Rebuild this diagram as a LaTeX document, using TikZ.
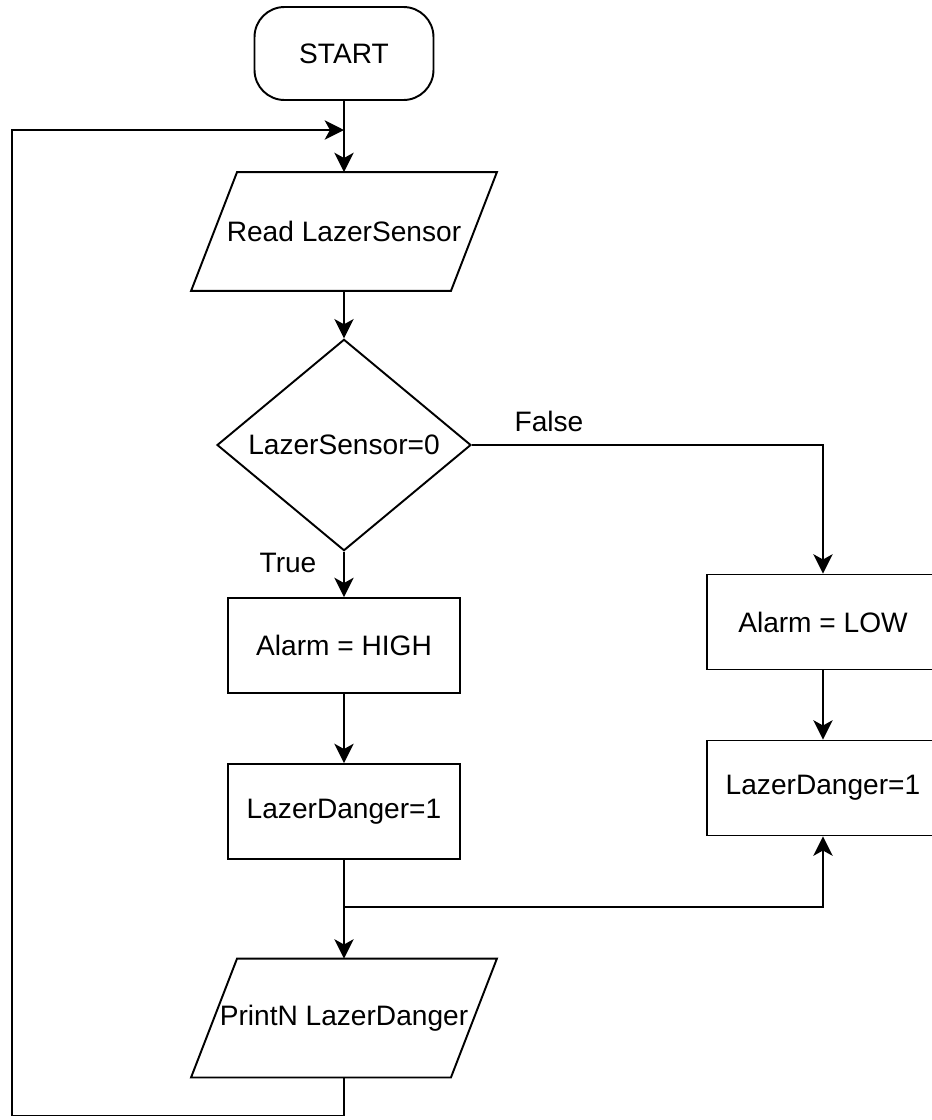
\documentclass[tikz,border=0pt]{standalone}
\usepackage{fontspec}
\setmainfont{Liberation Sans}
\usetikzlibrary{shapes.geometric,arrows.meta}
\tikzstyle{startstop} = [rectangle, rounded corners=0.6cm, minimum width=3.58cm, minimum height=1.86cm, text centered, draw=black]
\tikzstyle{io} = [rectangle, minimum width=5.16cm, minimum height=2.34cm, inner sep=0pt, text centered,
	append after command={\pgfextra{\draw ([xshift=0.46cm]\tikzlastnode.north west) -- ([xshift=0.46cm]\tikzlastnode.north east) -- ([xshift=-0.46cm]\tikzlastnode.south east) -- ([xshift=-0.46cm]\tikzlastnode.south west) -- cycle;}}]
\tikzstyle{decision} = [diamond, minimum width=5.08cm, minimum height=4.2cm, inner sep=0pt, text centered, draw=black]
\tikzstyle{process} = [rectangle, minimum width=4.64cm, minimum height=1.9cm, text centered, draw=black]
\tikzstyle{arrow} = [line width=1.1pt,-{Stealth[length=11pt,width=11pt,inset=3pt]}]

\begin{document}
\begin{tikzpicture}[x=0.02cm, y=-0.02cm, line width=1.1pt, font=\fontsize{16}{19}\selectfont]
	\useasboundingbox (0,0) rectangle (932,1120);
	\clip (0,0) rectangle (932,1120);
	\node (start) at (344, 53.5) [startstop] {START};
	\node (read) at (344, 231.5) [io] {Read LazerSensor};
	\node (check) at (344, 445) [decision] {LazerSensor=0};
	\node (high) at (344, 645.5) [process] {Alarm = HIGH};
	\node (dangerA) at (344, 811.5) [process] {LazerDanger=1};
	\node (low) at (823, 622) [process] {Alarm = LOW};
	\node (dangerB) at (823, 788) [process] {LazerDanger=1};
	\node (print) at (344, 1018) [io] {PrintN LazerDanger};
	\node (false) at (549, 421) {False};
	\node (true) at (288, 563) {True};
	\coordinate (merge) at (344, 130);
	\coordinate (split) at (344, 907);
	\draw[arrow] (start.south) -- (read.north);
	\draw[arrow] (read.south) -- (check.north);
	\draw[arrow] (check.south) -- (high.north);
	\draw[arrow] (check.east) -| (low.north);
	\draw[arrow] (high.south) -- (dangerA.north);
	\draw[arrow] (low.south) -- (dangerB.north);
	\draw[arrow] (dangerA.south) -- (print.north);
	\draw[arrow] (split) -| (dangerB.south);
	\draw[arrow] (print.south) -- ++(0,38) -| (12,130) -- (merge);
\end{tikzpicture}
\end{document}
